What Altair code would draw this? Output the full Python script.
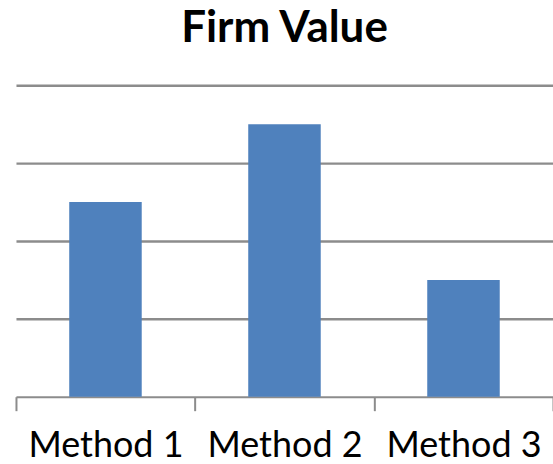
import altair as alt
import pandas as pd

categories = ["Method 1", "Method 2", "Method 3"]
values = [2.5, 3.5, 1.5]

df = pd.DataFrame({"method": categories, "value": values})

chart = alt.Chart(df).mark_bar(color="#4f81bd", width=alt.RelativeBandSize(0.405)).encode(
    x=alt.X("method:N", sort=categories, title=None,
            scale=alt.Scale(paddingInner=0, paddingOuter=0),
            axis=alt.Axis(labelAngle=0, labelFont="Lato", labelFontSize=36,
                          labelColor="#000000", labelBaseline="alphabetic",
                          labelPadding=46, tickSize=14, tickWidth=2,
                          tickColor="#8c8c8c", tickBand="extent",
                          domainColor="#8c8c8c", domainWidth=2, grid=False)),
    y=alt.Y("value:Q", title=None,
            scale=alt.Scale(domain=[0, 4], nice=False),
            axis=alt.Axis(values=[1, 2, 3, 4], labels=False, ticks=False,
                          domain=False, grid=True, gridColor="#8c8c8c",
                          gridWidth=2.5, gridOpacity=1)),
).properties(
    width=538,
    height=312,
    title=alt.TitleParams("Firm Value", font="Lato", fontSize=44,
                          fontWeight="bold", color="#000000",
                          anchor="middle", baseline="alphabetic", offset=-1),
    autosize=alt.AutoSizeParams(type="none"),
    padding={"left": 16, "top": 85, "right": 0, "bottom": 67},
).configure_view(stroke=None)

chart.save("out.html", embed_options={"renderer": "svg", "actions": False})
